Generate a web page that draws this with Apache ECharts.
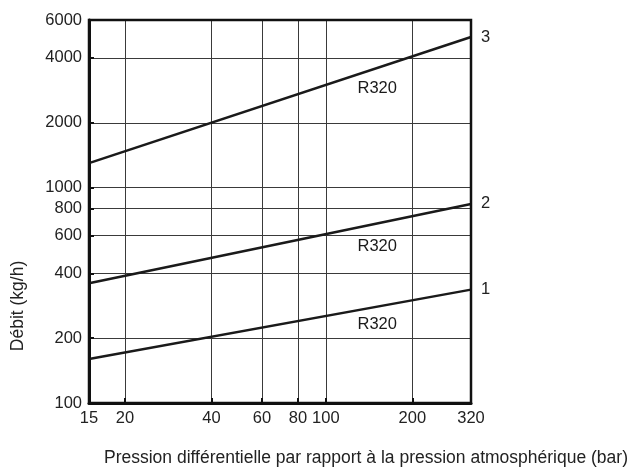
<!DOCTYPE html>
<html><head><meta charset="utf-8">
<script src="https://cdn.jsdelivr.net/npm/echarts@6/dist/echarts.min.js"></script>
<style>html,body{margin:0;padding:0;background:#fff}#c{width:630px;height:470px}</style>
</head><body><div id="c"></div>
<script>
const xTicks = [15, 20, 40, 60, 80, 100, 200, 320];
const yTicks = [100, 200, 400, 600, 800, 1000, 2000, 4000, 6000];
const pressure = [15, 320];
const curve1 = [160, 336];
const curve2 = [360, 840];
const curve3 = [1300, 5000];
const curveNames = ['1', '2', '3'];
const tagPressure = [151, 151, 151];
const tagFlow = [232, 531, 2900];
const tagText = ['R320', 'R320', 'R320'];

const FONT = 'Liberation Sans, Arial, sans-serif';
const chart = echarts.init(document.getElementById('c'));

function lineSeries(vals, name) {
  return {
    type: 'line', name: name,
    data: pressure.map((p, i) => [p, vals[i]]),
    symbol: 'none',
    lineStyle: {color: '#1a1a1a', width: 2.5},
    endLabel: {show: true, formatter: name, distance: 10, color: '#222', fontSize: 16.5, fontFamily: FONT},
    z: 5
  };
}

chart.setOption({
  animation: false,
  grid: {left: 89, right: 159, top: 20, bottom: 67, show: true, borderColor: '#111', borderWidth: 2.5, z: 10},
  xAxis: {
    type: 'log', min: 15, max: 320,
    axisLine: {lineStyle: {color: '#111', width: 3}},
    axisTick: {show: true, inside: true, length: 5, customValues: xTicks, lineStyle: {color: '#111', width: 2}},
    axisLabel: {customValues: xTicks, formatter: v => String(v), color: '#222', fontSize: 16.5, fontFamily: FONT, margin: 7},
    splitLine: {show: true, lineStyle: {color: '#3a3a3a', width: 1}},
    minorTick: {show: false}
  },
  yAxis: {
    type: 'log', min: 100, max: 6000,
    axisLine: {lineStyle: {color: '#111', width: 3}},
    axisTick: {show: true, inside: true, length: 5, customValues: yTicks, lineStyle: {color: '#111', width: 2}},
    axisLabel: {customValues: yTicks, formatter: v => String(v), color: '#222', fontSize: 16.5, fontFamily: FONT, margin: 7},
    splitLine: {show: true, lineStyle: {color: '#3a3a3a', width: 1}}
  },
  graphic: [
    {type: 'text', x: 104, y: 458, style: {text: 'Pression différentielle par rapport à la pression atmosphérique (bar)', fill: '#222', font: '17.5px ' + FONT, textVerticalAlign: 'middle'}},
    {type: 'text', x: 18, y: 306, rotation: Math.PI / 2, style: {text: 'Débit (kg/h)', fill: '#222', font: '17.5px ' + FONT, textAlign: 'center', textVerticalAlign: 'middle'}}
  ],
  series: [
    lineSeries(curve1, curveNames[0]),
    lineSeries(curve2, curveNames[1]),
    lineSeries(curve3, curveNames[2]),
    {
      type: 'scatter', symbolSize: 0, silent: true,
      itemStyle: {color: '#222', opacity: 1},
      data: tagPressure.map((p, i) => ({value: [p, tagFlow[i]], label: {formatter: tagText[i], color: '#1a1a1a'}})),
      label: {show: true, position: 'inside', color: '#1a1a1a', fontSize: 16.5, fontFamily: FONT, textBorderWidth: 0, opacity: 1},
      z: 6
    }
  ]
});
</script></body></html>
